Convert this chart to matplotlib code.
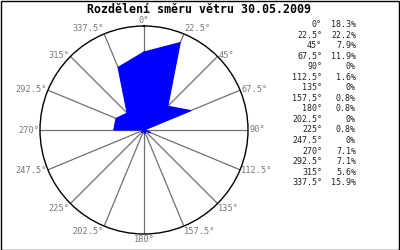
import numpy as np
import matplotlib
matplotlib.use("Agg")
import matplotlib.pyplot as plt
from matplotlib.patches import Rectangle

directions = [0, 22.5, 45, 67.5, 90, 112.5, 135, 157.5, 180, 202.5, 225, 247.5, 270, 292.5, 315, 337.5]
direction_labels = ["0°", "22.5°", "45°", "67.5°", "90°", "112.5°", "135°", "157.5°",
                    "180°", "202.5°", "225°", "247.5°", "270°", "292.5°", "315°", "337.5°"]
percent = [18.3, 22.2, 7.9, 11.9, 0, 1.6, 0, 0.8, 0.8, 0, 0.8, 0, 7.1, 7.1, 5.6, 15.9]
percent_labels = ["18.3%", "22.2%", "7.9%", "11.9%", "0%", "1.6%", "0%", "0.8%",
                  "0.8%", "0%", "0.8%", "0%", "7.1%", "7.1%", "5.6%", "15.9%"]
title = "Rozdělení směru větru 30.05.2009"

W, H = 400, 250
fig = plt.figure(figsize=(4, 2.5), dpi=100)
fig.patch.set_facecolor("white")

cx, cy, R = 144, 130, 104
ax = fig.add_axes([(cx - R) / W, (H - cy - R) / H, 2 * R / W, 2 * R / H], projection="polar")
ax.set_theta_zero_location("N")
ax.set_theta_direction(-1)
rmax = 24.4
ax.set_ylim(0, rmax)
ax.set_yticks([])
ax.set_thetagrids(directions, labels=[""] * len(directions))
ax.xaxis.grid(True, color="#707070", linewidth=0.9)
ax.tick_params(axis="x", length=0, pad=0)
ax.spines["polar"].set_color("black")
ax.spines["polar"].set_linewidth(1.0)
ax.set_facecolor("white")

th = np.deg2rad(directions)
th_c = np.append(th, th[0])
r_c = np.append(percent, percent[0])
ax.fill(th_c, r_c, color="#0000ff", zorder=3, linewidth=0)
ax.plot(th_c, r_c, color="#0000ff", linewidth=0.8, zorder=4)

mono = "DejaVu Sans Mono"
for d, lab in zip(directions, direction_labels):
    s, c = np.sin(np.deg2rad(d)), np.cos(np.deg2rad(d))
    ha = "left" if s > 0.1 else ("right" if s < -0.1 else "center")
    if c > 0.9:
        va = "bottom"
    elif c < -0.6:
        va = "top"
    else:
        va = "center"
    ax.text(np.deg2rad(d), rmax * 1.01, lab, ha=ha, va=va, fontsize=6.2,
            family=mono, color="#777777", zorder=5, clip_on=False)

fig.text(199 / W, 1 - 9.5 / H, title, ha="center", va="center", fontsize=8.4,
         family=mono, fontweight="bold", color="black")

y0, dy = 24.5, 10.55
for i, (dl, pl) in enumerate(zip(direction_labels, percent_labels)):
    y = 1 - (y0 + i * dy) / H
    fig.text(322 / W, y, dl, ha="right", va="center", fontsize=6.0, family=mono, color="#222222")
    fig.text(356 / W, y, pl, ha="right", va="center", fontsize=6.0, family=mono, color="#222222")

fig.add_artist(Rectangle((0.5 / W, 0.5 / H), 1 - 1.5 / W, 1 - 1.5 / H, transform=fig.transFigure,
                         fill=False, edgecolor="black", linewidth=1.0))

fig.savefig("out.png", dpi=100, facecolor="white")
